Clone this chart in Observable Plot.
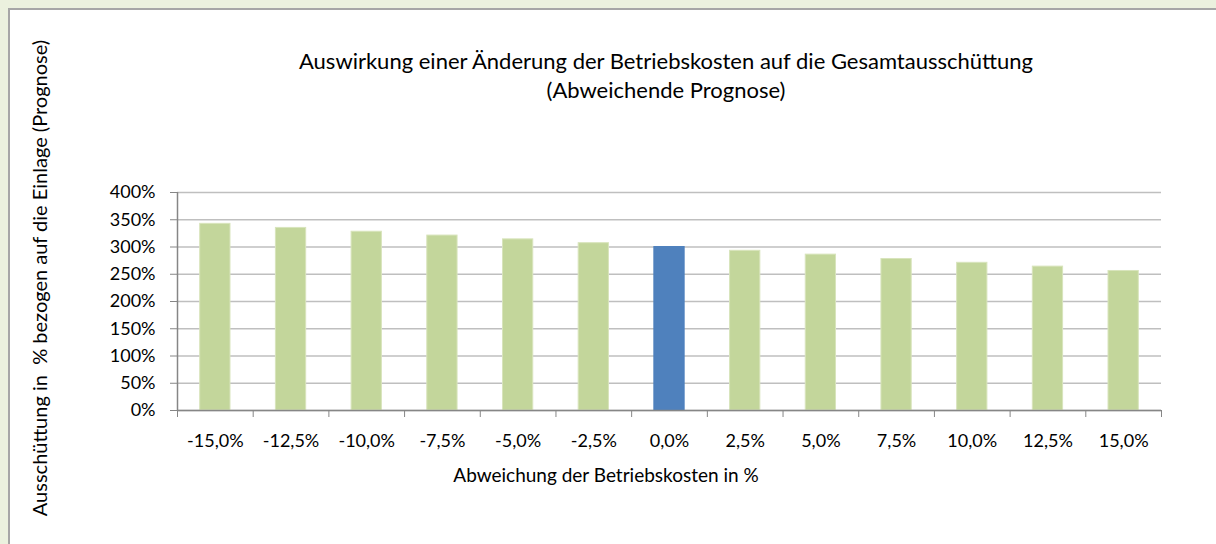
<!DOCTYPE html>
<html><head><meta charset="utf-8">
<script src="https://cdn.jsdelivr.net/npm/d3@7"></script>
<script src="https://cdn.jsdelivr.net/npm/@observablehq/plot@0.6"></script>
<style>
body{margin:0;}
#wrap{position:relative;width:1216px;height:544px;background:#ebf1de;overflow:hidden;font-family:Lato, "Open Sans", sans-serif;}
#panel{position:absolute;left:8px;top:8px;right:-12px;bottom:-12px;background:#fff;border:2px solid #a6a6a6;}
.t{position:absolute;color:#000;white-space:nowrap;transform:translate(-50%,-50%);}
#chart{position:absolute;left:0;top:0;}
</style></head><body>
<div id="wrap"><div id="panel"></div>
<div id="chart"></div>
<div class="t" style="left:666px;top:60px;font-size:22px">Auswirkung einer Änderung der Betriebskosten auf die Gesamtausschüttung</div>
<div class="t" style="left:666px;top:89px;font-size:22px">(Abweichende Prognose)</div>
<div class="t" style="left:606px;top:474px;font-size:19px">Abweichung der Betriebskosten in %</div>
<div class="t" style="left:39px;top:278px;font-size:20px;transform:translate(-50%,-50%) rotate(-90deg)">Ausschüttung in&nbsp; % bezogen auf die Einlage (Prognose)</div>
</div>
<script>
const categories = ["-15,0%","-12,5%","-10,0%","-7,5%","-5,0%","-2,5%","0,0%","2,5%","5,0%","7,5%","10,0%","12,5%","15,0%"];
const values = [342.5, 335, 328, 321, 314, 307, 300, 293, 286, 278, 271, 264, 256];
const highlight = "0,0%";
const yTicks = [0, 50, 100, 150, 200, 250, 300, 350, 400];

const data = categories.map((c, i) => ({cat: c, i, value: values[i]}));

const chart = Plot.plot({
  width: 1216,
  height: 544,
  marginLeft: 177,
  marginRight: 55,
  marginTop: 192,
  marginBottom: 134,
  style: {background: "transparent", fontFamily: "Lato, 'Open Sans', sans-serif", fontSize: "18px", color: "#000"},
  x: {type: "linear", domain: [0, categories.length], axis: null},
  y: {domain: [0, 400], axis: null},
  marks: [
    Plot.gridY(yTicks, {stroke: "#bfbfbf", strokeOpacity: 1, strokeWidth: 1.5}),
    Plot.rectY(data, {
      x1: d => d.i + 0.3,
      x2: d => d.i + 0.7,
      y: "value",
      fill: d => d.cat === highlight ? "#4f81bd" : "#c3d69b",
      stroke: d => d.cat === highlight ? "#4f81bd" : "#d8e4bc",
      strokeWidth: 1
    }),
    Plot.ruleX([0], {stroke: "#868686", strokeWidth: 1.5}),
    Plot.ruleY([0], {stroke: "#868686", strokeWidth: 1.5}),
    Plot.axisY(yTicks, {tickSize: 7, tickPadding: 15, tickFormat: d => d + "%", stroke: "#868686", fill: "#000", fontSize: 18, label: null}),
    Plot.axisX(d3.range(0, categories.length + 1), {tickSize: 7, tickFormat: () => "", stroke: "#868686", label: null}),
    Plot.axisX(categories.map((c, i) => i + 0.5), {tickSize: 0, tickPadding: 24, tickFormat: d => categories[Math.floor(d)], fill: "#000", fontSize: 18, label: null})
  ]
});
document.getElementById("chart").appendChild(chart);
</script>
</body></html>
